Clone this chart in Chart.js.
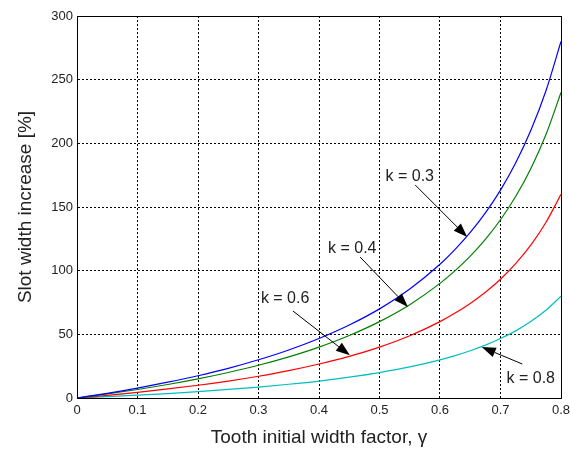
<!DOCTYPE html>
<html><head><meta charset="utf-8">
<script src="https://cdn.jsdelivr.net/npm/chart.js@4/dist/chart.umd.min.js"></script>
<style>html,body{margin:0;padding:0;background:#fff}#wrap{width:570px;height:453px}</style>
</head><body><div id="wrap"><canvas id="c" width="570" height="453"></canvas></div>
<script>
const gamma = [0,0.05,0.1,0.15,0.2,0.25,0.3,0.35,0.4,0.45,0.5,0.55,0.6,0.625,0.65,0.675,0.7,0.725,0.75,0.775,0.8];
const k03 = [0,3.7,7.8,12.4,17.5,23.3,30.0,37.7,46.7,57.3,70.0,85.6,105,116.7,130,145.4,163.3,184.5,210,241.1,280];
const k04 = [0,3.2,6.7,10.6,15,20,25.7,32.3,40,49.1,60,73.3,90,100,111.4,124.6,140,158.2,180,206.7,240];
const k06 = [0,2.1,4.4,7.1,10,13.3,17.1,21.5,26.7,32.7,40,48.9,60,66.7,74.3,83.1,93.3,105.5,120,137.8,160];
const k08 = [0,1.1,2.2,3.5,5,6.7,8.6,10.8,13.3,16.4,20,24.4,30,33.3,37.1,41.5,46.7,52.7,60,68.9,80];
const xTicks = [0,0.1,0.2,0.3,0.4,0.5,0.6,0.7,0.8];
const yTicks = [0,50,100,150,200,250,300];
const labels = ["k = 0.3","k = 0.4","k = 0.6","k = 0.8"];
// annotation anchors in data coordinates: [textX,textY, fromX,fromY, toX,toY]
const notes = [
  [0.550,173.6, 0.559,167.3, 0.645,126.4],
  [0.455,117.0, 0.468,110.7, 0.547,71.5],
  [0.344,77.7, 0.357,68.3, 0.451,33.5],
  [0.750,14.9, 0.736,26.7, 0.669,40.0]
];
const FONT = "'Liberation Sans', Arial, sans-serif";
const pts = arr => gamma.map((g,i)=>({x:g,y:arr[i]}));

const annot = {
  id:'annot',
  afterDatasetsDraw(chart){
    const {ctx, chartArea:a, scales:{x,y}} = chart;
    ctx.save();
    ctx.strokeStyle='#000'; ctx.lineWidth=1;
    ctx.strokeRect(a.left+0.5,a.top+0.5,a.right-a.left,a.bottom-a.top);
    ctx.font = "16px "+FONT;
    ctx.textAlign='center'; ctx.textBaseline='middle';
    notes.forEach((n,i)=>{
      const tx=x.getPixelForValue(n[0]), ty=y.getPixelForValue(n[1]);
      ctx.fillStyle='#222';
      ctx.fillText(labels[i],tx,ty);
      const x1=x.getPixelForValue(n[2]), y1=y.getPixelForValue(n[3]);
      const x2=x.getPixelForValue(n[4]), y2=y.getPixelForValue(n[5]);
      const ang=Math.atan2(y2-y1,x2-x1), L=14, W=5;
      const bx=x2-L*Math.cos(ang), by=y2-L*Math.sin(ang);
      ctx.strokeStyle='#000'; ctx.beginPath(); ctx.moveTo(x1,y1); ctx.lineTo(bx,by); ctx.stroke();
      ctx.fillStyle='#000'; ctx.beginPath();
      ctx.moveTo(x2,y2);
      ctx.lineTo(bx+W*Math.sin(ang), by-W*Math.cos(ang));
      ctx.lineTo(bx-W*Math.sin(ang), by+W*Math.cos(ang));
      ctx.closePath(); ctx.fill();
    });
    ctx.restore();
  }
};

const ds = (d,c)=>({data:pts(d),borderColor:c,borderWidth:1.2,pointRadius:0,fill:false,cubicInterpolationMode:'monotone'});
new Chart(document.getElementById('c'),{
  type:'line',
  data:{datasets:[ds(k03,'#0000ff'),ds(k04,'#008000'),ds(k06,'#ff0000'),ds(k08,'#00bfbf')]},
  options:{
    responsive:false,animation:false,
    layout:{padding:{top:16,right:9,left:0,bottom:0}},
    plugins:{legend:{display:false},tooltip:{enabled:false}},
    scales:{
      x:{type:'linear',min:0,max:0.8,
        afterBuildTicks(s){s.ticks=xTicks.map(v=>({value:v}));},
        afterFit(s){s.height=55;s.paddingLeft=0;s.paddingRight=0;},
        grid:{color:'#000',lineWidth:1,drawTicks:false},
        border:{display:true,color:'#000',dash:[2,2]},
        ticks:{color:'#222',font:{family:FONT,size:13},padding:5,maxRotation:0,callback:v=>String(v)},
        title:{display:true,text:'Tooth initial width factor, γ',color:'#222',font:{family:FONT,size:19},padding:{top:5}}
      },
      y:{min:0,max:300,
        afterBuildTicks(s){s.ticks=yTicks.map(v=>({value:v}));},
        afterFit(s){s.width=77;s.paddingTop=0;s.paddingBottom=0;},
        grid:{color:'#000',lineWidth:1,drawTicks:false},
        border:{display:true,color:'#000',dash:[2,2]},
        ticks:{color:'#222',font:{family:FONT,size:13},padding:4},
        title:{display:true,text:'Slot width increase [%]',color:'#222',font:{family:FONT,size:19},padding:{top:14,bottom:6}}
      }
    }
  },
  plugins:[annot]
});
</script>
</body></html>
